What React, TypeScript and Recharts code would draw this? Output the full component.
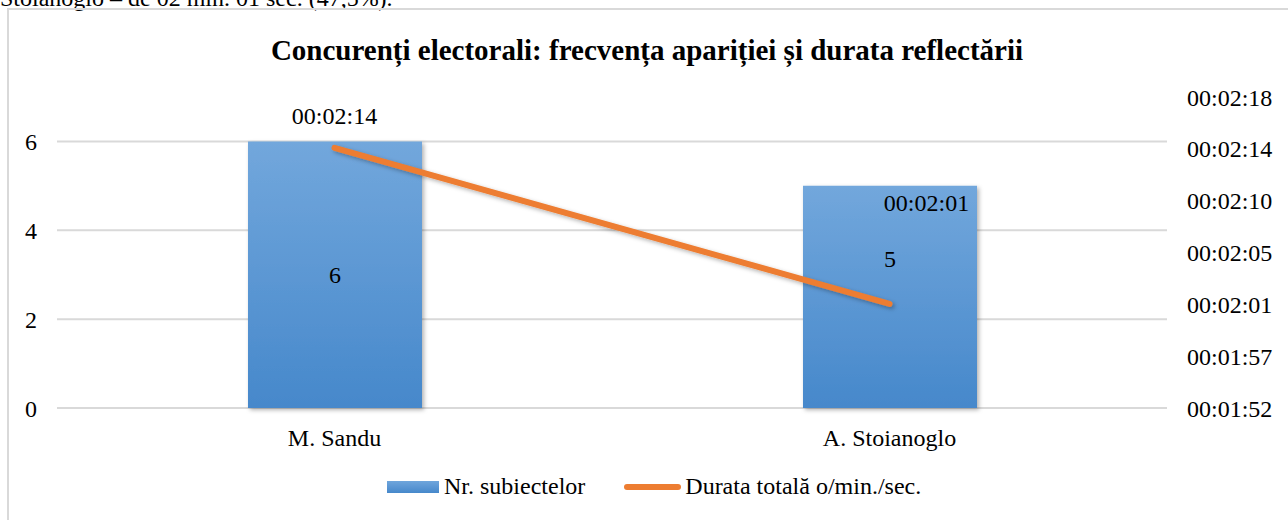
import { ComposedChart, Bar, Line, XAxis, YAxis, CartesianGrid, Legend, LabelList } from 'recharts';

const categories = ['M. Sandu', 'A. Stoianoglo'];
const subjectCounts = [6, 5];
// total duration in seconds (00:02:14, 00:02:01)
const durationSeconds = [134, 121];
const leftTicks = [0, 2, 4, 6];
// excel time axis: 0.0013 days, step 0.00005 days
const rightTicks = [112.32, 116.64, 120.96, 125.28, 129.6, 133.92, 138.24];

const data = categories.map((name, i) => ({
  name,
  count: subjectCounts[i],
  duration: durationSeconds[i],
}));

const FONT = "'Liberation Serif', 'Times New Roman', Times, serif";

const pad = (n: number) => String(n).padStart(2, '0');
const fmtTime = (sec: number) => {
  const t = Math.round(sec);
  return `${pad(Math.floor(t / 3600))}:${pad(Math.floor((t % 3600) / 60))}:${pad(t % 60)}`;
};

// label nudges, like the ones moved by hand in the original sheet
const barLabelShift = [0, -38];
const lineLabelShift = [
  { dx: 0, dy: -32 },
  { dx: 37, dy: -101 },
];

const txtStyle = { fontFamily: FONT, fontSize: 24 };

const BarValue = (props: any) => {
  const { x, y, width, height, value, index } = props;
  return (
    <text
      x={x + width / 2}
      y={y + height / 2 + (barLabelShift[index] || 0)}
      dy="0.35em"
      textAnchor="middle"
      style={txtStyle}
      fill="#000"
    >
      {value}
    </text>
  );
};

const LineValue = (props: any) => {
  const { x, y, value, index } = props;
  const s = lineLabelShift[index] || { dx: 0, dy: -30 };
  return (
    <text x={x + s.dx} y={y + s.dy} dy="0.35em" textAnchor="middle" style={txtStyle} fill="#000">
      {fmtTime(value)}
    </text>
  );
};

const LegendBox = ({ payload }: any) => {
  // bar first, as in the excel legend
  const items = [...(payload || [])].sort((a: any, b: any) => (a.type === 'line' ? 1 : 0) - (b.type === 'line' ? 1 : 0));
  return (
    <div style={{ display: 'flex', alignItems: 'center', paddingLeft: 387, fontFamily: FONT, fontSize: 24, color: '#000' }}>
      {items.map((p: any, i: number) => (
        <div key={i} style={{ display: 'flex', alignItems: 'center', marginRight: 39 }}>
          {p.type === 'line' ? (
            <span style={{ width: 57, height: 6, borderRadius: 3, background: '#ED7D31', marginRight: 4 }} />
          ) : (
            <span style={{ width: 52, height: 12, background: 'linear-gradient(#6fa5dc, #4688cb)', marginRight: 5 }} />
          )}
          <span>{p.value}</span>
        </div>
      ))}
    </div>
  );
};

const tickStyle = { fill: '#000', fontSize: 24, fontFamily: FONT, style: { fontFamily: FONT } };

export default function App() {
  return (
    <div style={{ position: 'absolute', left: 0, top: 0, width: 1288, height: 520, overflow: 'hidden', background: '#fff', fontFamily: FONT }}>
      <div style={{ position: 'absolute', left: 0, top: -16, fontSize: 24, whiteSpace: 'nowrap', lineHeight: '28px' }}>
        Stoianoglo – de 02 min. 01 sec. (47,5%).
      </div>
      <div style={{ position: 'absolute', left: 7, top: 8, width: 1300, height: 540, border: '2px solid #d9d9d9', boxSizing: 'border-box' }} />
      <div style={{ position: 'absolute', left: 0, top: 33, width: 1294, textAlign: 'center', fontSize: 29, fontWeight: 'bold', lineHeight: '34px', whiteSpace: 'nowrap' }}>
        Concurenți electorali: frecvența apariției și durata reflectării
      </div>
      <div style={{ position: 'absolute', left: 0, top: 0, fontFamily: FONT }}>
        <ComposedChart width={1288} height={520} data={data} margin={{ top: 97, right: 10, bottom: 82, left: 7 }} style={{ fontFamily: FONT }}>
          <defs>
            <linearGradient id="barGrad" x1="0" y1="0" x2="0" y2="1">
              <stop offset="0%" stopColor="#72a7dc" />
              <stop offset="100%" stopColor="#4688cb" />
            </linearGradient>
            <filter id="softShadow" x="-10%" y="-10%" width="130%" height="130%">
              <feDropShadow dx="2" dy="2" stdDeviation="2" floodColor="#000" floodOpacity="0.3" />
            </filter>
          </defs>
          <CartesianGrid vertical={false} stroke="#d9d9d9" strokeWidth={2} yAxisId="left" horizontalValues={leftTicks} />
          <XAxis dataKey="name" axisLine={false} tickLine={false} tickSize={0} tickMargin={21} height={30} tick={tickStyle} />
          <YAxis
            yAxisId="left"
            domain={[0, 7]}
            ticks={leftTicks}
            width={50}
            axisLine={false}
            tickLine={false}
            tickSize={0}
            tickMargin={20}
            tick={tickStyle}
          />
          <YAxis
            yAxisId="right"
            orientation="right"
            domain={[rightTicks[0], rightTicks[rightTicks.length - 1]]}
            ticks={rightTicks}
            tickFormatter={fmtTime}
            width={111}
            axisLine={false}
            tickLine={false}
            tickSize={0}
            tickMargin={20}
            tick={tickStyle}
          />
          <Legend verticalAlign="middle" layout="horizontal" content={<LegendBox />} wrapperStyle={{ top: 473, left: 0, width: 1288 }} />
          <Bar
            yAxisId="left"
            dataKey="count"
            name="Nr. subiectelor"
            barSize={174}
            fill="url(#barGrad)"
            filter="url(#softShadow)"
            isAnimationActive={false}
          >
            <LabelList dataKey="count" content={<BarValue />} />
          </Bar>
          <Line
            yAxisId="right"
            type="linear"
            dataKey="duration"
            name="Durata totală o/min./sec."
            stroke="#ED7D31"
            strokeWidth={6}
            strokeLinecap="round"
            dot={false}
            activeDot={false}
            filter="url(#softShadow)"
            legendType="line"
            isAnimationActive={false}
          >
            <LabelList dataKey="duration" content={<LineValue />} />
          </Line>
        </ComposedChart>
      </div>
    </div>
  );
}
